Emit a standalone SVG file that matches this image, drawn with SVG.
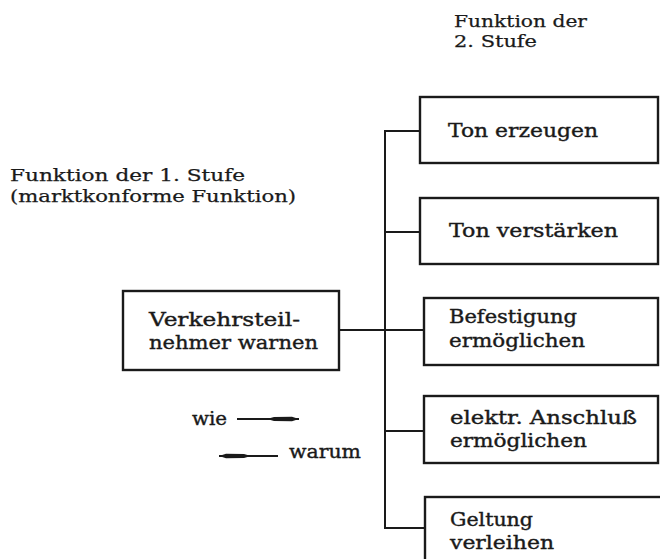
<svg xmlns="http://www.w3.org/2000/svg" width="660" height="559" viewBox="0 0 660 559">
<defs>
<style>
.bg{fill:#ffffff}
.box{fill:none;stroke:#1a1a1a;stroke-width:2.4}
.ln{fill:none;stroke:#1a1a1a;stroke-width:2}
.t{font-family:"DejaVu Serif","Liberation Serif",serif;font-size:19px;fill:#1a1a1a;stroke:#1a1a1a;stroke-width:0.4}
.h{font-family:"DejaVu Serif","Liberation Serif",serif;font-size:17px;fill:#1a1a1a;stroke:#1a1a1a;stroke-width:0.25}
</style>
<marker id="arr" viewBox="0 0 32 7" refX="32" refY="3.5" markerWidth="32" markerHeight="7" markerUnits="userSpaceOnUse" orient="auto">
<path d="M0,3.5 L7,1.5 L25,1.3 L32,3.5 L25,5.7 L7,5.5 Z" fill="#1a1a1a"/>
</marker>
</defs>
<rect class="bg" x="0" y="0" width="660" height="559"/>

<g id="headers">
<text class="h" x="454" y="27" textLength="133" lengthAdjust="spacingAndGlyphs">Funktion der</text>
<text class="h" x="454" y="47" textLength="83" lengthAdjust="spacingAndGlyphs">2. Stufe</text>
<text class="h" x="10" y="181" textLength="235" lengthAdjust="spacingAndGlyphs">Funktion der 1. Stufe</text>
<text class="h" x="10" y="202" textLength="286" lengthAdjust="spacingAndGlyphs">(marktkonforme Funktion)</text>
</g>

<g id="connectors">
<line class="ln" x1="339" y1="330" x2="424" y2="330"/>
<line class="ln" x1="385" y1="130" x2="385" y2="529"/>
<line class="ln" x1="384" y1="131" x2="420" y2="131"/>
<line class="ln" x1="384" y1="232" x2="420" y2="232"/>
<line class="ln" x1="384" y1="431" x2="424" y2="431"/>
<line class="ln" x1="384" y1="528" x2="425" y2="528"/>
</g>

<g id="n0">
<rect class="box" x="123" y="291" width="216" height="79"/>
<text class="t" x="149" y="326" textLength="151" lengthAdjust="spacingAndGlyphs">Verkehrsteil-</text>
<text class="t" x="149" y="349" textLength="169" lengthAdjust="spacingAndGlyphs">nehmer warnen</text>
</g>

<g id="n1">
<rect class="box" x="420" y="97" width="238" height="66"/>
<text class="t" x="448" y="137" textLength="150" lengthAdjust="spacingAndGlyphs">Ton erzeugen</text>
</g>

<g id="n2">
<rect class="box" x="420" y="198" width="238" height="66"/>
<text class="t" x="449" y="237" textLength="169" lengthAdjust="spacingAndGlyphs">Ton verstärken</text>
</g>

<g id="n3">
<rect class="box" x="424" y="298" width="234" height="67"/>
<text class="t" x="449" y="323" textLength="128" lengthAdjust="spacingAndGlyphs">Befestigung</text>
<text class="t" x="449" y="347" textLength="136" lengthAdjust="spacingAndGlyphs">ermöglichen</text>
</g>

<g id="n4">
<rect class="box" x="424" y="396" width="234" height="67"/>
<text class="t" x="450" y="424" textLength="187" lengthAdjust="spacingAndGlyphs">elektr. Anschluß</text>
<text class="t" x="450" y="447" textLength="137" lengthAdjust="spacingAndGlyphs">ermöglichen</text>
</g>

<g id="n5">
<rect class="box" x="425" y="497" width="245" height="80"/>
<text class="t" x="450" y="526" textLength="83" lengthAdjust="spacingAndGlyphs">Geltung</text>
<text class="t" x="450" y="549" textLength="104" lengthAdjust="spacingAndGlyphs">verleihen</text>
</g>

<g id="legend">
<text class="t" x="192" y="425" textLength="35" lengthAdjust="spacingAndGlyphs">wie</text>
<line class="ln" x1="237" y1="419" x2="299" y2="419" stroke-width="1.8" marker-end="url(#arr)"/>
<line class="ln" x1="278" y1="456" x2="219" y2="456" stroke-width="1.8" marker-end="url(#arr)"/>
<text class="t" x="289" y="458" textLength="72" lengthAdjust="spacingAndGlyphs">warum</text>
</g>
</svg>
